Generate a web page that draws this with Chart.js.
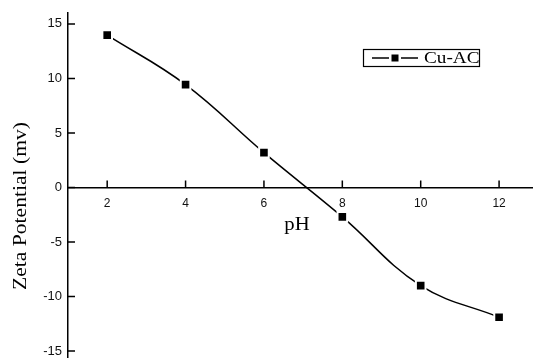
<!DOCTYPE html>
<html>
<head>
<meta charset="utf-8">
<script src="https://cdn.jsdelivr.net/npm/chart.js@4.4.1/dist/chart.umd.min.js"></script>
<style>
body { margin: 0; background: #fff; }
#caixa { width: 536px; height: 358px; }
</style>
</head>
<body>
<div id="caixa"><canvas id="grafico"></canvas></div>
<script>
// dados
var phValores = [2, 4, 6, 8, 10, 12];
var zetaValores = [13.97, 9.43, 3.19, -2.7, -9.0, -11.9];
var ticksX = [2, 4, 6, 8, 10, 12];
var ticksY = [-15, -10, -5, 0, 5, 10, 15];
var nomeSerie = 'Cu-AC';
var tituloX = 'pH';
var tituloY = 'Zeta Potential (mv)';

var fonteSerif = '"Liberation Serif", "Times New Roman", serif';
var fonteSans = '"Liberation Sans", Arial, sans-serif';

function textoEsticado(ctx, texto, x, y, esticar, girar) {
    ctx.save();
    ctx.translate(x, y);
    if (girar) ctx.rotate(-Math.PI / 2);
    ctx.scale(esticar, 1);
    ctx.fillText(texto, 0, 0);
    ctx.restore();
}

var desenhoExtra = {
    id: 'desenhoExtra',
    afterDraw: function (chart) {
        var ctx = chart.ctx;
        var sx = chart.scales.x;
        var sy = chart.scales.y;
        var zero = sy.getPixelForValue(0);
        ctx.save();
        // marcas dos ticks para dentro
        ctx.strokeStyle = '#000';
        ctx.lineWidth = 1.5;
        ctx.beginPath();
        sx.ticks.forEach(function (t) {
            var px = sx.getPixelForValue(t.value);
            ctx.moveTo(px, zero);
            ctx.lineTo(px, zero - 7);
        });
        sy.ticks.forEach(function (t) {
            var py = sy.getPixelForValue(t.value);
            ctx.moveTo(sy.right, py);
            ctx.lineTo(sy.right + 7, py);
        });
        ctx.stroke();

        // titulos dos eixos
        ctx.fillStyle = '#000';
        ctx.textAlign = 'center';
        ctx.textBaseline = 'middle';
        ctx.font = '18px ' + fonteSerif;
        textoEsticado(ctx, tituloX, 297, 225, 1.15, false);
        textoEsticado(ctx, tituloY, 21, 206, 1.2, true);

        // legenda
        ctx.lineWidth = 1.2;
        ctx.strokeRect(363.5, 49.5, 116, 17);
        ctx.lineWidth = 1.5;
        ctx.beginPath();
        ctx.moveTo(372, 58);
        ctx.lineTo(389, 58);
        ctx.moveTo(401, 58);
        ctx.lineTo(418, 58);
        ctx.stroke();
        ctx.fillRect(391.5, 54.5, 7, 7);
        ctx.textAlign = 'left';
        ctx.font = '17px ' + fonteSerif;
        textoEsticado(ctx, nomeSerie, 424, 58.5, 1.13, false);
        ctx.restore();
    }
};

var grafico = document.getElementById('grafico').getContext('2d');
var criarGrafico = new Chart(grafico, {
    type: 'line',
    data: {
        datasets: [{
            label: nomeSerie,
            data: phValores.map(function (x, i) { return { x: x, y: zetaValores[i] }; }),
            borderColor: '#000',
            borderWidth: 1.5,
            tension: 0.4,
            pointStyle: 'rect',
            pointRadius: 6.8,
            pointBackgroundColor: '#000',
            pointBorderColor: '#fff',
            pointBorderWidth: 2,
            clip: false
        }]
    },
    options: {
        responsive: true,
        maintainAspectRatio: false,
        animation: false,
        events: [],
        layout: { autoPadding: false, padding: { top: 13, right: 4, left: 0, bottom: 0 } },
        plugins: {
            legend: { display: false },
            tooltip: { enabled: false }
        },
        scales: {
            x: {
                type: 'linear',
                position: { y: 0 },
                min: 1,
                max: 12.84,
                afterBuildTicks: function (scale) {
                    scale.ticks = ticksX.map(function (v) { return { value: v }; });
                },
                afterFit: function (scale) {
                    scale.height = 0;
                    scale.paddingLeft = 0;
                    scale.paddingRight = 0;
                },
                grid: { display: false, drawTicks: false },
                border: { display: true, color: '#000', width: 1.5 },
                ticks: {
                    padding: 9,
                    color: '#111',
                    font: { family: fonteSans, size: 12 }
                }
            },
            y: {
                type: 'linear',
                position: 'left',
                min: -15.64,
                max: 16,
                afterBuildTicks: function (scale) {
                    scale.ticks = ticksY.map(function (v) { return { value: v }; });
                },
                afterFit: function (scale) {
                    scale.width = 68;
                    scale.paddingTop = 0;
                    scale.paddingBottom = 0;
                },
                grid: { display: false, drawTicks: false },
                border: { display: true, color: '#000', width: 1.5 },
                ticks: {
                    padding: 6,
                    color: '#111',
                    font: { family: fonteSans, size: 13 }
                }
            }
        }
    },
    plugins: [desenhoExtra]
});
</script>
</body>
</html>
